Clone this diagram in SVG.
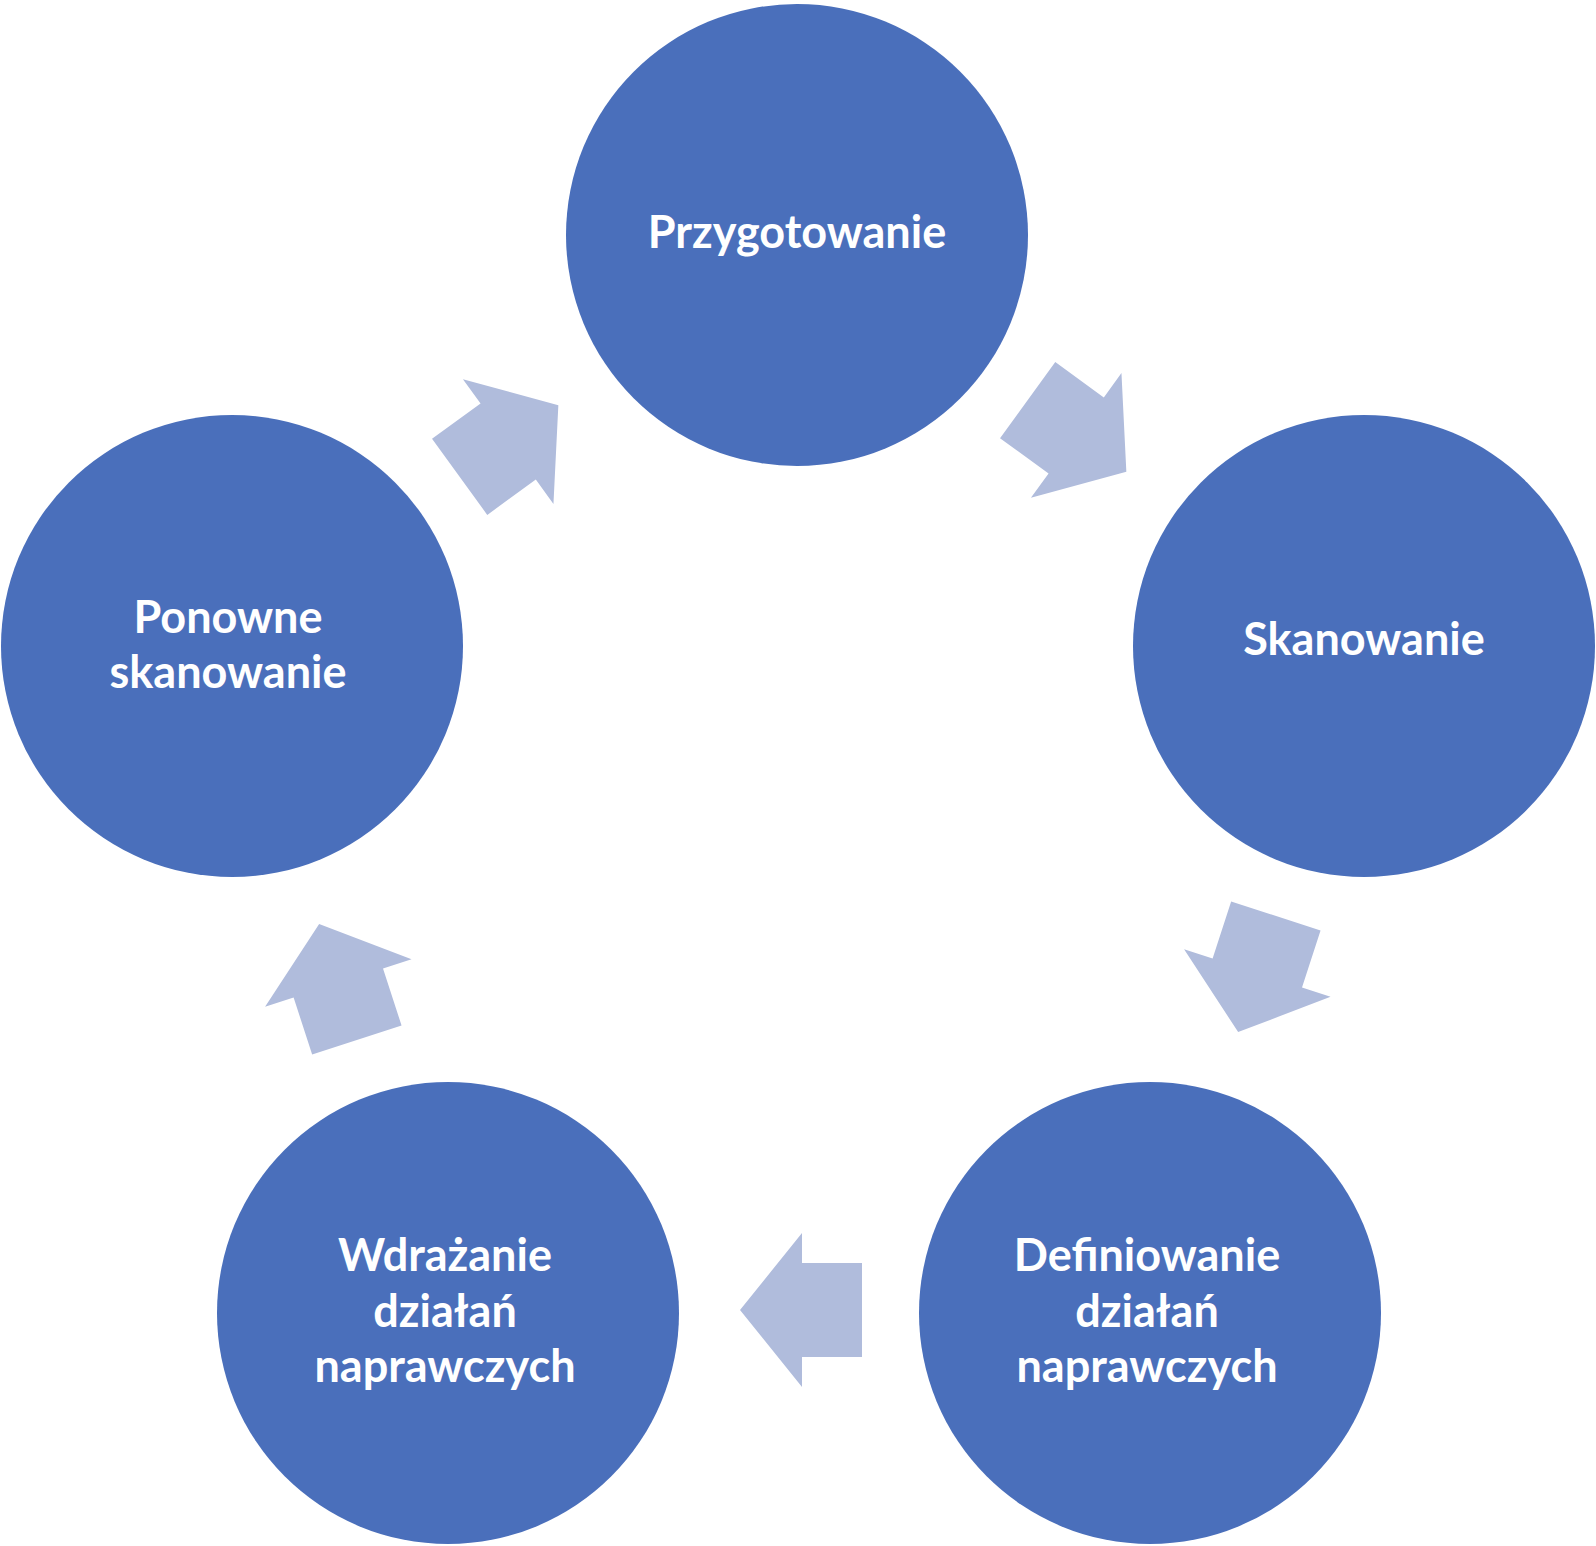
<svg xmlns="http://www.w3.org/2000/svg" width="1596" height="1546" viewBox="0 0 1596 1546">
<style>
.node{fill:#4A6FBB}
.lbl{fill:#FFFFFF;font-family:Lato,"Open Sans","Liberation Sans",sans-serif;font-weight:bold;font-size:45px;text-anchor:middle}
.arr{fill:#B0BCDC}
</style>
<defs>
<polygon id="arrow" points="-61,-47 -1,-47 -1,-77 61,0 -1,77 -1,47 -61,47"/>
</defs>
<rect width="1596" height="1546" fill="#FFFFFF"/>
<g id="connectors">
<use href="#arrow" class="arr" transform="translate(1077,436) rotate(36)"/>
<use href="#arrow" class="arr" transform="translate(1257,974) rotate(108)"/>
<use href="#arrow" class="arr" transform="translate(801,1310) rotate(180)"/>
<use href="#arrow" class="arr" transform="translate(338,982) rotate(252)"/>
<use href="#arrow" class="arr" transform="translate(509,441) rotate(324)"/>
</g>
<g id="node-przygotowanie">
<circle class="node" cx="797" cy="235" r="231"/>
<text class="lbl" x="797" y="248">Przygotowanie</text>
</g>
<g id="node-skanowanie">
<circle class="node" cx="1364" cy="646" r="231"/>
<text class="lbl" x="1364" y="655">Skanowanie</text>
</g>
<g id="node-definiowanie">
<circle class="node" cx="1150" cy="1313" r="231"/>
<text class="lbl" x="1147" y="1271">Definiowanie</text>
<text class="lbl" x="1147" y="1327">działań</text>
<text class="lbl" x="1147" y="1382">naprawczych</text>
</g>
<g id="node-wdrazanie">
<circle class="node" cx="448" cy="1313" r="231"/>
<text class="lbl" x="445" y="1271">Wdrażanie</text>
<text class="lbl" x="445" y="1327">działań</text>
<text class="lbl" x="445" y="1382">naprawczych</text>
</g>
<g id="node-ponowne">
<circle class="node" cx="232" cy="646" r="231"/>
<text class="lbl" x="228" y="633">Ponowne</text>
<text class="lbl" x="228" y="688">skanowanie</text>
</g>
</svg>
